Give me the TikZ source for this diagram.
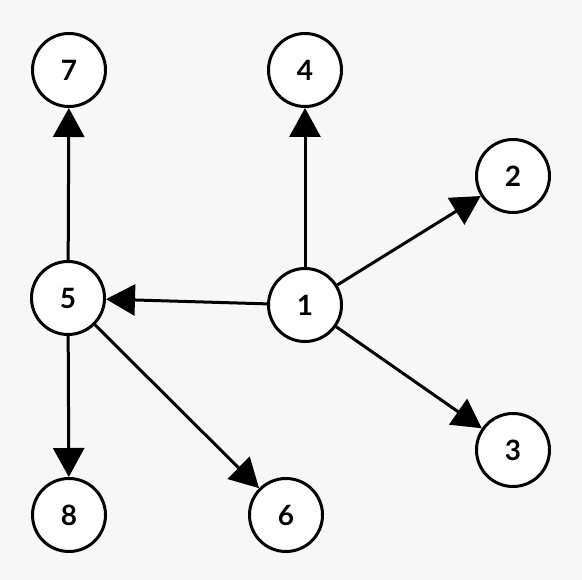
\documentclass[tikz,border=0pt]{standalone}
\usepackage{fontspec}
\setmainfont{Lato}
\usetikzlibrary{arrows.meta}
\definecolor{bgc}{HTML}{F7F7F7}
\begin{document}
\begin{tikzpicture}[x=1pt,y=-1pt,
  vert/.style={circle,draw=black,fill=white,line width=3pt,minimum size=73pt,inner sep=0pt,font=\fontsize{28}{30}\selectfont\bfseries},
  edge/.style={line width=3pt,-{Triangle[length=29pt,width=31pt]}}]
\fill[bgc] (0,0) rectangle (582,580);
\useasboundingbox (0,0) rectangle (582,580);
\node[vert] (n7) at (69,70) {7};
\node[vert] (n4) at (305,70) {4};
\node[vert] (n2) at (513,176) {2};
\node[vert] (n5) at (68,298) {5};
\node[vert] (n1) at (305,305) {1};
\node[vert] (n3) at (513,450) {3};
\node[vert] (n8) at (69,515) {8};
\node[vert] (n6) at (286,515) {6};
\draw[edge] (n1) -- (n4);
\draw[edge] (n1) -- (n2);
\draw[edge] (n1) -- (n3);
\draw[edge] (n1) -- (n5);
\draw[edge] (n5) -- (n7);
\draw[edge] (n5) -- (n8);
\draw[edge] (n5) -- (n6);
\end{tikzpicture}
\end{document}
